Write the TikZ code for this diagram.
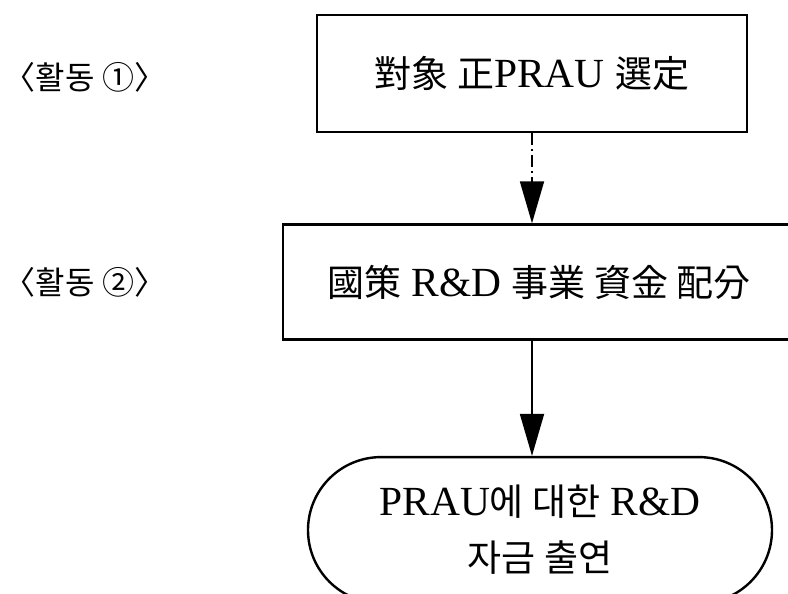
\documentclass[tikz,border=0pt]{standalone}
\usepackage{fontspec}
\setmainfont{Liberation Serif}[Scale=1.12]
\newfontfamily\kr{Noto Sans CJK KR}
\usetikzlibrary{arrows.meta,positioning,shapes.misc}

\begin{document}
\begin{tikzpicture}[x=0.5pt,y=-0.5pt,>={Triangle[length=21pt,width=12pt]},
  thick,node distance=45pt,
  step box/.style={rectangle,draw,line width=1.3pt,inner sep=0pt,
  font=\fontsize{18.5}{27}\selectfont},
  end box/.style={rounded rectangle,draw,line width=1.2pt,inner sep=0pt,
  align=center,font=\fontsize{18.5}{27}\selectfont},
  tag/.style={font=\fontsize{16}{20}\selectfont},
  flow/.style={->,line width=0.9pt}]

  % page frame: the boxes run past the right and lower edges
  \path[use as bounding box,clip] (0,0) rectangle (788,594);

  \node[step box,minimum width=215pt,minimum height=58.5pt] (b1) at (532,73.5)
    {{\kr 對象 正}PRAU {\kr 選定}};
  \node[step box,minimum width=256pt,minimum height=57.5pt] (b2)
    [below=45pt of b1,xshift=3.5pt] {{\kr 國策} R\&D {\kr 事業 資金 配分}};
  \node[end box,minimum width=232pt,minimum height=73pt] (e) [below=57.5pt of b2,xshift=0.5pt]
    {\raisebox{-6pt}{PRAU{\kr 에 대한} R\&D}\\[1pt]\raisebox{-6pt}{\kr 자금 출연}};

  \node[tag] (t1) at (85,77) {\kr 〈활동 ①〉};
  \node[tag] (t2) at (t1 |- b2) {\kr 〈활동 ②〉};

  \draw[flow,dash pattern=on 6pt off 2pt on 1pt off 2pt] (b1.south) -- (b1.south |- b2.north);
  \draw[flow] (b1.south |- b2.south) -- (b1.south |- e.north);
\end{tikzpicture}
\end{document}
